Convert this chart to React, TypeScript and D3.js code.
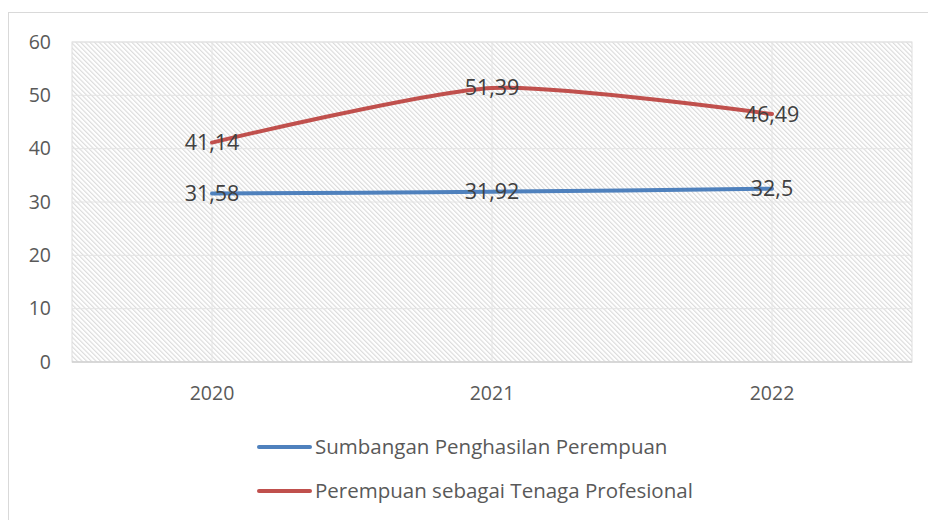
import React, { useEffect, useRef } from 'react';
import * as d3 from 'd3';

const years = ['2020', '2021', '2022'];
const sumbangan = [31.58, 31.92, 32.5];
const profesional = [41.14, 51.39, 46.49];
const seriesNames = ['Sumbangan Penghasilan Perempuan', 'Perempuan sebagai Tenaga Profesional'];
const seriesColors = ['#4F81BD', '#C0504D'];
const yTicks = [0, 10, 20, 30, 40, 50, 60];

const width = 928;
const height = 520;
const plot = { left: 72, right: 912, top: 42, bottom: 362 };
const font = "'Open Sans', 'Liberation Sans', sans-serif";

export default function App() {
  const svgRef = useRef<SVGSVGElement | null>(null);

  useEffect(() => {
    if (!svgRef.current) return;
    const svg = d3.select(svgRef.current);
    svg.selectAll('*').remove();

    const x = d3.scaleBand().domain(years).range([plot.left, plot.right]);
    const y = d3.scaleLinear().domain([0, 60]).range([plot.bottom, plot.top]);
    const cx = (d: string) => (x(d) as number) + x.bandwidth() / 2;

    // diagonal hatch fill of the plot area
    const defs = svg.append('defs');
    const pat = defs.append('pattern')
      .attr('id', 'hatch')
      .attr('patternUnits', 'userSpaceOnUse')
      .attr('width', 3.3)
      .attr('height', 10)
      .attr('patternTransform', 'rotate(-45)');
    pat.append('rect').attr('width', 3.3).attr('height', 10).attr('fill', '#fff');
    pat.append('line')
      .attr('x1', 0.6).attr('x2', 0.6).attr('y1', 0).attr('y2', 10)
      .attr('stroke', '#d6d6d6')
      .attr('stroke-width', 1);

    // chart border
    svg.append('rect')
      .attr('x', 8.5).attr('y', 12.5)
      .attr('width', 940).attr('height', 540)
      .attr('fill', '#fff')
      .attr('stroke', '#d9d9d9');

    svg.append('rect')
      .attr('x', plot.left).attr('y', plot.top)
      .attr('width', plot.right - plot.left).attr('height', plot.bottom - plot.top)
      .attr('fill', 'url(#hatch)')
      .attr('stroke', '#dedede');

    // horizontal gridlines
    svg.append('g').selectAll('line').data(yTicks).enter().append('line')
      .attr('x1', plot.left).attr('x2', plot.right)
      .attr('y1', d => y(d)).attr('y2', d => y(d))
      .attr('stroke', d => (d === 0 ? '#d0d0d0' : '#e4e4e4'))
      .attr('stroke-width', d => (d === 0 ? 1.5 : 1));

    // vertical gridlines at categories
    svg.append('g').selectAll('line').data(years).enter().append('line')
      .attr('x1', d => cx(d)).attr('x2', d => cx(d))
      .attr('y1', plot.top).attr('y2', plot.bottom)
      .attr('stroke', '#e4e4e4');

    // y tick labels
    svg.append('g').selectAll('text').data(yTicks).enter().append('text')
      .attr('x', 51).attr('y', d => y(d))
      .attr('dy', '0.35em')
      .attr('text-anchor', 'end')
      .attr('font-family', font).attr('font-size', 19.5)
      .attr('fill', '#595959')
      .text(d => d);

    // x tick labels
    svg.append('g').selectAll('text').data(years).enter().append('text')
      .attr('x', d => cx(d)).attr('y', 393)
      .attr('dy', '0.35em')
      .attr('text-anchor', 'middle')
      .attr('font-family', font).attr('font-size', 19.5)
      .attr('fill', '#595959')
      .text(d => d);

    const line = d3.line<number>()
      .x((_, i) => cx(years[i]))
      .y(d => y(d))
      .curve(d3.curveCardinal.tension(0.3));

    [sumbangan, profesional].forEach((vals, k) => {
      svg.append('path')
        .datum(vals)
        .attr('d', line)
        .attr('fill', 'none')
        .attr('stroke', seriesColors[k])
        .attr('stroke-width', 4)
        .attr('stroke-linecap', 'round');
    });

    [sumbangan, profesional].forEach(vals => {
      svg.append('g').selectAll('text').data(vals).enter().append('text')
        .attr('x', (_, i) => cx(years[i]))
        .attr('y', d => y(d))
        .attr('dy', '0.35em')
        .attr('text-anchor', 'middle')
        .attr('font-family', font).attr('font-size', 21.5)
        .attr('fill', '#404040')
        .text(d => String(d).replace('.', ','));
    });

    // legend
    const legend = svg.append('g');
    seriesNames.forEach((name, k) => {
      const ly = 447 + k * 44;
      legend.append('line')
        .attr('x1', 259).attr('x2', 310)
        .attr('y1', ly).attr('y2', ly)
        .attr('stroke', seriesColors[k])
        .attr('stroke-width', 4)
        .attr('stroke-linecap', 'round');
      legend.append('text')
        .attr('x', 315).attr('y', ly)
        .attr('dy', '0.35em')
        .attr('font-family', font).attr('font-size', 20.5)
        .attr('fill', '#595959')
        .text(name);
    });
  }, []);

  return (
    <svg
      ref={svgRef}
      width={width}
      height={height}
      style={{ position: 'absolute', left: 0, top: 0 }}
    />
  );
}
